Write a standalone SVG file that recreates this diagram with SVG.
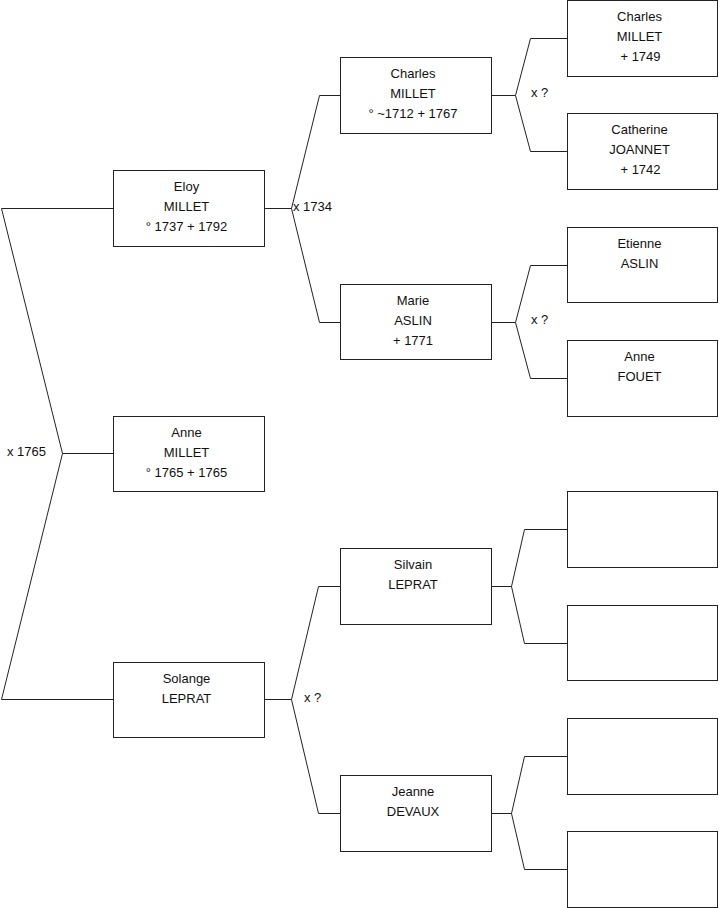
<svg xmlns="http://www.w3.org/2000/svg" width="719" height="908" viewBox="0 0 719 908">
<style>
.box{fill:#fff;stroke:#222;stroke-width:1}
.c{fill:none;stroke:#222;stroke-width:1}
text{font-family:"Liberation Sans",Arial,sans-serif;font-size:13px;fill:#111}
.t{text-anchor:middle}
</style>
<rect width="719" height="908" fill="#fff"/>
<g id="connectors">
<path class="c" d="M113.5,208.5 H1.5 L62.5,453.5 L1.5,699.5 H113.5 M62.5,453.5 H113.5"/>
<path class="c" d="M264.5,208.5 H291.5 M340.5,95.5 H319.5 L291.5,208.5 L319.5,322.5 H340.5"/>
<path class="c" d="M264.5,699.5 H291.5 M340.5,586.5 H318.5 L291.5,699.5 L318.5,813.5 H340.5"/>
<path class="c" d="M491.5,95.5 H515.5 M567.5,38.5 H530.5 L515.5,95.5 L530.5,151.5 H567.5"/>
<path class="c" d="M491.5,322.5 H515.5 M567.5,265.5 H530.5 L515.5,322.5 L530.5,378.5 H567.5"/>
<path class="c" d="M491.5,586.5 H511.5 M567.5,529.5 H524.5 L511.5,586.5 L524.5,643.5 H567.5"/>
<path class="c" d="M491.5,813.5 H511.5 M567.5,756.5 H524.5 L511.5,813.5 L524.5,869.5 H567.5"/>
<text x="7" y="456">x 1765</text>
<text x="293" y="211">x 1734</text>
<text x="304" y="702">x ?</text>
<text x="531" y="97">x ?</text>
<text x="531" y="324">x ?</text>
</g>
<g id="eloy"><rect class="box" x="113.5" y="170.5" width="151" height="76"/>
<text class="t" x="186.5" y="191">Eloy</text><text class="t" x="186.5" y="211">MILLET</text><text class="t" x="186.5" y="231">° 1737 + 1792</text></g>
<g id="anne-millet"><rect class="box" x="113.5" y="416.5" width="151" height="75"/>
<text class="t" x="186.5" y="437">Anne</text><text class="t" x="186.5" y="457">MILLET</text><text class="t" x="186.5" y="477">° 1765 + 1765</text></g>
<g id="solange"><rect class="box" x="113.5" y="662.5" width="151" height="75"/>
<text class="t" x="186.5" y="683">Solange</text><text class="t" x="186.5" y="703">LEPRAT</text></g>
<g id="charles-millet"><rect class="box" x="340.5" y="57.5" width="151" height="76"/>
<text class="t" x="413" y="78">Charles</text><text class="t" x="413" y="98">MILLET</text><text class="t" x="413" y="118">° ~1712 + 1767</text></g>
<g id="marie-aslin"><rect class="box" x="340.5" y="284.5" width="151" height="75"/>
<text class="t" x="413" y="305">Marie</text><text class="t" x="413" y="325">ASLIN</text><text class="t" x="413" y="345">+ 1771</text></g>
<g id="silvain-leprat"><rect class="box" x="340.5" y="548.5" width="151" height="76"/>
<text class="t" x="413" y="569">Silvain</text><text class="t" x="413" y="589">LEPRAT</text></g>
<g id="jeanne-devaux"><rect class="box" x="340.5" y="775.5" width="151" height="76"/>
<text class="t" x="413" y="796">Jeanne</text><text class="t" x="413" y="816">DEVAUX</text></g>
<g id="charles-millet-2"><rect class="box" x="567.5" y="0.5" width="150" height="76"/>
<text class="t" x="639.5" y="21">Charles</text><text class="t" x="639.5" y="41">MILLET</text><text class="t" x="640.5" y="61">+ 1749</text></g>
<g id="catherine-joannet"><rect class="box" x="567.5" y="113.5" width="150" height="76"/>
<text class="t" x="639.5" y="134">Catherine</text><text class="t" x="639.5" y="154">JOANNET</text><text class="t" x="640.5" y="174">+ 1742</text></g>
<g id="etienne-aslin"><rect class="box" x="567.5" y="227.5" width="150" height="75"/>
<text class="t" x="639.5" y="248">Etienne</text><text class="t" x="639.5" y="268">ASLIN</text></g>
<g id="anne-fouet"><rect class="box" x="567.5" y="340.5" width="150" height="76"/>
<text class="t" x="639.5" y="361">Anne</text><text class="t" x="639.5" y="381">FOUET</text></g>
<g id="unknown-1"><rect class="box" x="567.5" y="491.5" width="150" height="76"/></g>
<g id="unknown-2"><rect class="box" x="567.5" y="605.5" width="150" height="75"/></g>
<g id="unknown-3"><rect class="box" x="567.5" y="718.5" width="150" height="76"/></g>
<g id="unknown-4"><rect class="box" x="567.5" y="831.5" width="150" height="76"/></g>
</svg>
